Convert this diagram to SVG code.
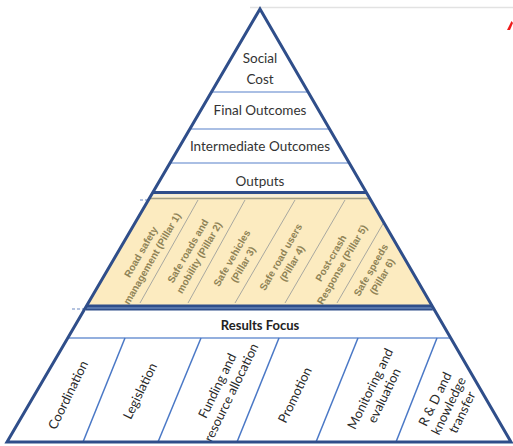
<svg xmlns="http://www.w3.org/2000/svg" width="513" height="446" viewBox="0 0 513 446">
  <style>
    .lvl { font-family: Lato, "Open Sans", "Liberation Sans", sans-serif; font-size: 13.5px; fill: #333; text-anchor: middle; }
    .rf { font-family: Lato, "Open Sans", "Liberation Sans", sans-serif; font-size: 13px; font-weight: bold; fill: #222; text-anchor: middle; }
    .fn { font-family: Lato, "Open Sans", "Liberation Sans", sans-serif; font-size: 13px; fill: #2a2a2a; text-anchor: middle; }
    .pl { font-family: "Liberation Sans", Arial, sans-serif; font-size: 10px; font-weight: bold; fill: #8f8356; text-anchor: middle; }
    .sep { stroke: #8eaadb; stroke-width: 1.6; fill: none; }
    .pdiv { stroke: #a8a8a0; stroke-width: 1; fill: none; }
    .fdiv { stroke: #4a78c6; stroke-width: 1.5; fill: none; }
    .edge { stroke: #2f4e8a; fill: none; stroke-linejoin: miter; }
  </style>

  <rect width="513" height="446" fill="#ffffff"/>
  <line x1="250" y1="7.5" x2="513" y2="7.5" stroke="#e2e2e2" stroke-width="1.5"/>
  <polygon points="507,30 511.5,21 513,23 510,30" fill="#ee1c1c"/>

  <!-- Upper levels -->
  <g id="social-cost">
    <text class="lvl" x="260" y="63">Social</text>
    <text class="lvl" x="260" y="84">Cost</text>
  </g>
  <g id="final-outcomes">
    <text class="lvl" x="260" y="115">Final Outcomes</text>
  </g>
  <g id="intermediate-outcomes">
    <text class="lvl" x="260" y="151">Intermediate Outcomes</text>
  </g>
  <g id="outputs">
    <text class="lvl" x="260" y="186">Outputs</text>
  </g>

  <!-- Pillars band -->
  <g id="pillars-band">
    <polygon points="152.5,193 366.7,193 432.8,307 86,307" fill="#fcebc0"/>
    <polygon points="151,194.5 368,194.5 370,197 149.5,197" fill="#f6f0dc"/>
    <line x1="149.5" y1="198.5" x2="370" y2="198.5" stroke="#a4a086" stroke-width="1.6"/>
  </g>
  <g id="pillar-1">
    <text class="pl" transform="translate(146,255) rotate(-60)"><tspan x="0" y="-2.5">Road safety</tspan><tspan x="0" y="10.5">management (Pillar 1)</tspan></text>
  </g>
  <g id="pillar-2">
    <text class="pl" transform="translate(193,254) rotate(-60)"><tspan x="0" y="-2.5">Safe roads and</tspan><tspan x="0" y="10.5">mobility (Pillar 2)</tspan></text>
  </g>
  <g id="pillar-3">
    <text class="pl" transform="translate(237,261) rotate(-60)"><tspan x="0" y="-2.5">Safe vehicles</tspan><tspan x="0" y="10.5">(Pillar 3)</tspan></text>
  </g>
  <g id="pillar-4">
    <text class="pl" transform="translate(286,260) rotate(-60)"><tspan x="0" y="-2.5">Safe road users</tspan><tspan x="0" y="10.5">(Pillar 4)</tspan></text>
  </g>
  <g id="pillar-5">
    <text class="pl" transform="translate(336,261) rotate(-60)"><tspan x="0" y="-2.5">Post-crash</tspan><tspan x="0" y="10.5">Response (Pillar 5)</tspan></text>
  </g>
  <g id="pillar-6">
    <text class="pl" transform="translate(376,273) rotate(-60)"><tspan x="0" y="-2.5">Safe speeds</tspan><tspan x="0" y="10.5">(Pillar 6)</tspan></text>
  </g>

  <!-- Results focus -->
  <g id="results-focus">
    <text class="rf" x="260" y="330">Results Focus</text>
  </g>
  <g id="coordination">
    <text class="fn" transform="translate(68,395) rotate(-64)"><tspan x="0" y="4.5">Coordination</tspan></text>
  </g>
  <g id="legislation">
    <text class="fn" transform="translate(140,391) rotate(-64)"><tspan x="0" y="4.5">Legislation</tspan></text>
  </g>
  <g id="funding">
    <text class="fn" transform="translate(224,389) rotate(-64)"><tspan x="0" y="-3">Funding and</tspan><tspan x="0" y="12.5">resource allocation</tspan></text>
  </g>
  <g id="promotion">
    <text class="fn" transform="translate(295,395) rotate(-64)"><tspan x="0" y="4.5">Promotion</tspan></text>
  </g>
  <g id="monitoring">
    <text class="fn" transform="translate(377,392) rotate(-64)"><tspan x="0" y="-3">Monitoring and</tspan><tspan x="0" y="12.5">evaluation</tspan></text>
  </g>
  <g id="rd-knowledge">
    <text class="fn" transform="translate(449,406) rotate(-64)"><tspan x="0" y="-11">R &amp; D and</tspan><tspan x="0" y="4">knowledge</tspan><tspan x="0" y="19">transfer</tspan></text>
  </g>

  <!-- Dividers / connectors -->
  <g id="connectors">
    <line class="sep" x1="211.5" y1="92" x2="308.1" y2="92"/>
    <line class="sep" x1="189.9" y1="129" x2="329.6" y2="129"/>
    <line class="sep" x1="170.1" y1="163" x2="349.3" y2="163"/>

    <line class="pdiv" x1="198" y1="200" x2="140" y2="303"/>
    <line class="pdiv" x1="245" y1="200" x2="188" y2="303"/>
    <line class="pdiv" x1="295" y1="200" x2="235" y2="303"/>
    <line class="pdiv" x1="345" y1="200" x2="285" y2="303"/>
    <line class="pdiv" x1="384" y1="222" x2="337" y2="303"/>

    <line x1="67.9" y1="338" x2="450.8" y2="338" stroke="#6f95d3" stroke-width="1.6"/>
    <line class="fdiv" x1="125" y1="338" x2="83" y2="442"/>
    <line class="fdiv" x1="201" y1="338" x2="158" y2="442"/>
    <line class="fdiv" x1="279" y1="338" x2="237" y2="442"/>
    <line class="fdiv" x1="358" y1="338" x2="316" y2="442"/>
    <line class="fdiv" x1="437" y1="338" x2="396" y2="442"/>

    <line x1="152.5" y1="192.5" x2="366.7" y2="192.5" stroke="#2f4e8a" stroke-width="3"/>
    <line x1="86" y1="307.5" x2="432.8" y2="307.5" stroke="#2f4e8a" stroke-width="6"/>
    <line x1="86" y1="308" x2="432.8" y2="308" stroke="#7f9ccd" stroke-width="1"/>
    <line x1="140" y1="200" x2="150" y2="200" stroke="#6a88c0" stroke-width="1.2" stroke-dasharray="3 2"/>
    <line x1="72" y1="309" x2="84" y2="309" stroke="#6a88c0" stroke-width="1.2" stroke-dasharray="3 2"/>

    <polygon class="edge" points="260,9 511,442 7,442" stroke-width="3"/>
  </g>
</svg>
